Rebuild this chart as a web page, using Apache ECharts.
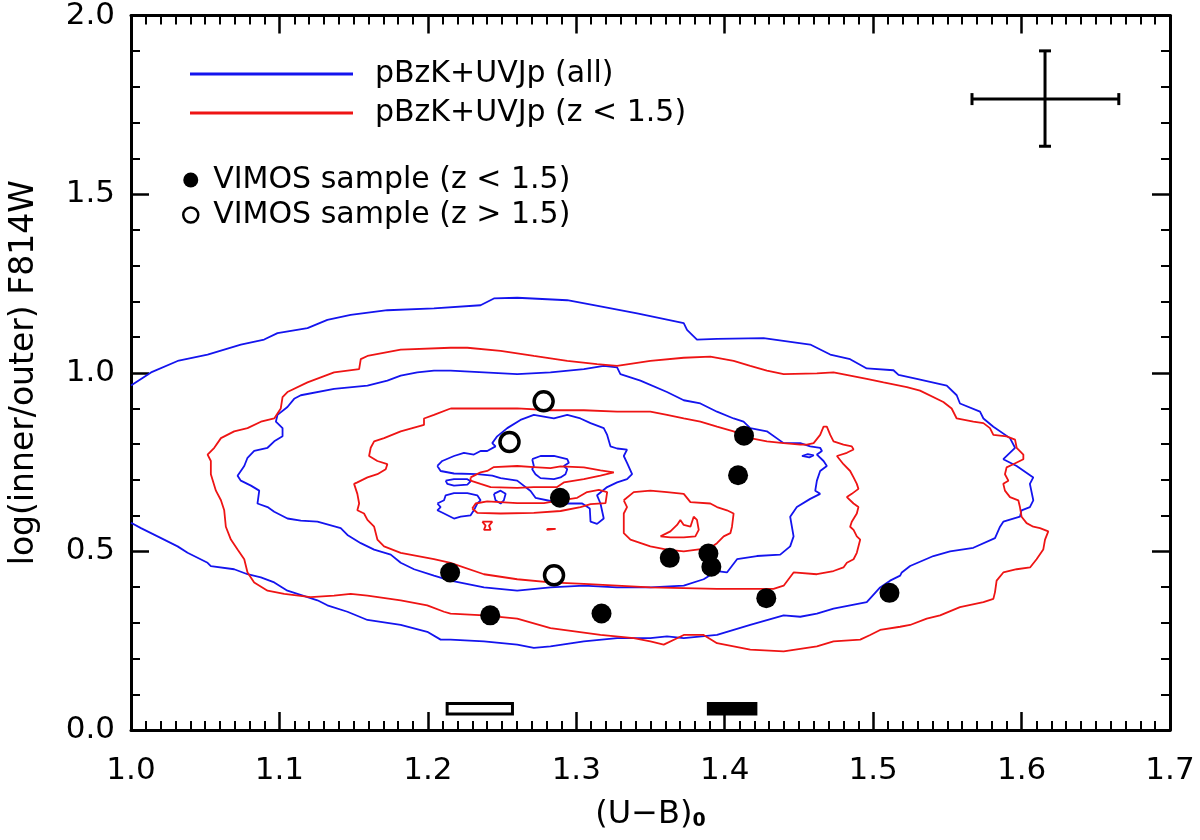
<!DOCTYPE html>
<html><head><meta charset="utf-8">
<script src="https://cdn.jsdelivr.net/npm/echarts@6.0.0/dist/echarts.min.js"></script>
<style>html,body{margin:0;background:#fff}#c{width:1200px;height:840px}</style>
</head><body><div id="c"></div>
<script>
const FONT = 'DejaVu Sans';
const NAME_ALL = 'pBzK+UVJp (all)';
const NAME_LOW = 'pBzK+UVJp (z < 1.5)';
const NAME_VLOW = 'VIMOS sample (z < 1.5)';
const NAME_VHIGH = 'VIMOS sample (z > 1.5)';

const xTicks = [1.0, 1.7, 0.1];
const yTicks = [0.0, 2.0, 0.5];

// blue contours (all)
const blueLevel1 = [[1.0,0.580],[1.0067,0.565],[1.0179,0.542],[1.0314,0.514],[1.0381,0.496],[1.0516,0.468],[1.0538,0.459],[1.0695,0.450],[1.0785,0.436],[1.0875,0.427],[1.0965,0.413],[1.1054,0.390],[1.1189,0.372],[1.1256,0.363],[1.1323,0.349],[1.1458,0.331],[1.1593,0.308],[1.1817,0.294],[1.1996,0.275],[1.2086,0.253],[1.2153,0.253],[1.2378,0.248],[1.2602,0.239],[1.2714,0.230],[1.2826,0.234],[1.3051,0.248],[1.3275,0.257],[1.3499,0.257],[1.3611,0.262],[1.3724,0.257],[1.3948,0.266],[1.4172,0.294],[1.4397,0.321],[1.4509,0.317],[1.4621,0.326],[1.4733,0.340],[1.4845,0.349],[1.4957,0.358],[1.5047,0.399],[1.5114,0.418],[1.5182,0.432],[1.5193,0.441],[1.5249,0.459],[1.5406,0.487],[1.5518,0.500],[1.5675,0.510],[1.5821,0.537],[1.5855,0.569],[1.5877,0.583],[1.5989,0.597],[1.6000,0.615],[1.6056,0.624],[1.6079,0.643],[1.6056,0.689],[1.6079,0.707],[1.5967,0.739],[1.5877,0.758],[1.5956,0.790],[1.5922,0.817],[1.5810,0.849],[1.5743,0.872],[1.5720,0.891],[1.5585,0.914],[1.5563,0.937],[1.5496,0.964],[1.5294,0.983],[1.5171,0.994],[1.5137,1.007],[1.4957,1.012],[1.4845,1.038],[1.4711,1.051],[1.4576,1.079],[1.4262,1.097],[1.3948,1.095],[1.3813,1.093],[1.3746,1.120],[1.3724,1.139],[1.3410,1.166],[1.3118,1.189],[1.2939,1.203],[1.2602,1.210],[1.2445,1.208],[1.2355,1.189],[1.2041,1.180],[1.1727,1.175],[1.1480,1.162],[1.1323,1.148],[1.1189,1.125],[1.0987,1.111],[1.0897,1.093],[1.0740,1.079],[1.0516,1.051],[1.0314,1.033],[1.0135,1.001],[1.0,0.964]];
const blueLevel2 = [[1.2153,1.006],[1.2041,1.006],[1.1929,1.001],[1.1817,0.992],[1.1727,0.978],[1.1593,0.964],[1.1368,0.955],[1.1144,0.937],[1.1099,0.927],[1.1054,0.904],[1.0987,0.882],[1.0976,0.863],[1.1021,0.845],[1.1021,0.822],[1.0965,0.808],[1.0920,0.790],[1.0830,0.781],[1.0785,0.762],[1.0763,0.739],[1.0718,0.712],[1.0740,0.698],[1.0808,0.684],[1.0864,0.670],[1.0852,0.634],[1.0920,0.624],[1.0965,0.611],[1.1054,0.592],[1.1144,0.586],[1.1256,0.583],[1.1413,0.565],[1.1458,0.546],[1.1548,0.523],[1.1638,0.505],[1.1750,0.491],[1.1817,0.468],[1.1907,0.450],[1.2041,0.432],[1.2153,0.418],[1.2378,0.399],[1.2602,0.390],[1.2826,0.399],[1.3051,0.404],[1.3275,0.399],[1.3499,0.399],[1.3724,0.404],[1.3858,0.422],[1.3948,0.445],[1.4015,0.441],[1.4083,0.478],[1.4217,0.487],[1.4374,0.491],[1.4441,0.514],[1.4464,0.542],[1.4441,0.597],[1.4486,0.624],[1.4576,0.647],[1.4643,0.661],[1.4610,0.670],[1.4621,0.698],[1.4643,0.725],[1.4688,0.739],[1.4666,0.753],[1.4621,0.771],[1.4655,0.781],[1.4643,0.790],[1.4576,0.794],[1.4509,0.803],[1.4397,0.803],[1.4284,0.836],[1.4172,0.845],[1.4127,0.863],[1.4060,0.872],[1.3948,0.891],[1.3836,0.914],[1.3724,0.923],[1.3611,0.946],[1.3432,0.978],[1.3297,0.996],[1.3275,1.015],[1.3185,1.019],[1.3051,1.010],[1.2826,1.001],[1.2602,0.996],[1.2378,1.001],[1.2153,1.006]];
const blueLevel3 = [[1.2064,0.739],[1.2097,0.753],[1.2176,0.767],[1.2243,0.776],[1.2310,0.771],[1.2355,0.781],[1.2400,0.781],[1.2456,0.794],[1.2434,0.803],[1.2467,0.822],[1.2535,0.845],[1.2624,0.868],[1.2714,0.882],[1.2849,0.872],[1.2939,0.882],[1.3028,0.872],[1.3096,0.859],[1.3185,0.845],[1.3208,0.826],[1.3230,0.794],[1.3275,0.788],[1.3342,0.785],[1.3320,0.767],[1.3342,0.748],[1.3376,0.716],[1.3342,0.702],[1.3275,0.693],[1.3208,0.680],[1.3140,0.657],[1.3163,0.634],[1.3185,0.592],[1.3140,0.577],[1.3096,0.583],[1.3091,0.620],[1.3040,0.634],[1.2939,0.634],[1.2826,0.641],[1.2725,0.650],[1.2692,0.669],[1.2602,0.698],[1.2490,0.705],[1.2434,0.712],[1.2333,0.716],[1.2176,0.718],[1.2086,0.725],[1.2064,0.739]];
const blueIslandA = [[1.2703,0.758],[1.2759,0.767],[1.2849,0.767],[1.2939,0.758],[1.2950,0.748],[1.2916,0.739],[1.2939,0.730],[1.2927,0.716],[1.2894,0.707],[1.2849,0.702],[1.2759,0.705],[1.2725,0.716],[1.2703,0.730],[1.2714,0.739],[1.2703,0.758]];
const blueIslandB = [[1.2120,0.698],[1.2176,0.702],[1.2266,0.702],[1.2288,0.696],[1.2266,0.687],[1.2176,0.684],[1.2131,0.689],[1.2120,0.698]];
const blueIslandC = [[1.2064,0.634],[1.2109,0.643],[1.2120,0.657],[1.2176,0.663],[1.2266,0.663],[1.2333,0.657],[1.2355,0.643],[1.2333,0.634],[1.2310,0.615],[1.2288,0.601],[1.2221,0.597],[1.2176,0.592],[1.2109,0.606],[1.2064,0.615],[1.2086,0.624],[1.2064,0.634]];
const blueIslandD = [[1.2445,0.661],[1.2490,0.670],[1.2524,0.661],[1.2512,0.643],[1.2490,0.634],[1.2456,0.643],[1.2445,0.661]];
const blueIslandE = [[1.4520,0.767],[1.4560,0.772],[1.4600,0.769],[1.4570,0.763],[1.4520,0.767]];

// red contours (z < 1.5)
const redLevel1 = [[1.2153,1.070],[1.1817,1.065],[1.1593,1.047],[1.1548,1.038],[1.1537,1.010],[1.1368,1.001],[1.1189,0.973],[1.1054,0.946],[1.1021,0.932],[1.1009,0.900],[1.0965,0.872],[1.0875,0.863],[1.0785,0.845],[1.0695,0.836],[1.0606,0.817],[1.0561,0.790],[1.0516,0.771],[1.0538,0.753],[1.0538,0.716],[1.0572,0.670],[1.0606,0.643],[1.0628,0.615],[1.0639,0.569],[1.0673,0.533],[1.0718,0.505],[1.0763,0.478],[1.0785,0.441],[1.0830,0.413],[1.0920,0.390],[1.1032,0.381],[1.1211,0.372],[1.1368,0.376],[1.1480,0.381],[1.1593,0.376],[1.1817,0.363],[1.1996,0.349],[1.2109,0.331],[1.2153,0.326],[1.2378,0.321],[1.2602,0.312],[1.2826,0.285],[1.3163,0.266],[1.3387,0.257],[1.3499,0.248],[1.3589,0.239],[1.3679,0.257],[1.3724,0.266],[1.3858,0.266],[1.3948,0.243],[1.4172,0.225],[1.4397,0.220],[1.4621,0.234],[1.4733,0.248],[1.4913,0.253],[1.4980,0.266],[1.5047,0.280],[1.5182,0.289],[1.5249,0.294],[1.5361,0.312],[1.5451,0.321],[1.5585,0.344],[1.5743,0.358],[1.5810,0.367],[1.5821,0.386],[1.5832,0.418],[1.5877,0.441],[1.5967,0.450],[1.6057,0.455],[1.6101,0.478],[1.6146,0.505],[1.6158,0.533],[1.6180,0.556],[1.6124,0.565],[1.6079,0.569],[1.6034,0.579],[1.6000,0.597],[1.5989,0.624],[1.5978,0.643],[1.5922,0.652],[1.5888,0.670],[1.5877,0.689],[1.5911,0.698],[1.5888,0.716],[1.5899,0.735],[1.5944,0.744],[1.6012,0.758],[1.6012,0.771],[1.5967,0.790],[1.5956,0.813],[1.5899,0.822],[1.5810,0.826],[1.5787,0.845],[1.5743,0.859],[1.5675,0.863],[1.5563,0.872],[1.5529,0.900],[1.5473,0.918],[1.5316,0.950],[1.5227,0.960],[1.5070,0.973],[1.4957,0.983],[1.4845,0.992],[1.4733,1.001],[1.4621,0.998],[1.4397,0.996],[1.4284,1.006],[1.4172,1.019],[1.4060,1.033],[1.3903,1.045],[1.3724,1.042],[1.3499,1.033],[1.3275,1.019],[1.3140,1.024],[1.2939,1.033],[1.2714,1.047],[1.2490,1.061],[1.2266,1.070],[1.2153,1.070]];
const redLevel2 = [[1.2153,0.900],[1.2041,0.882],[1.1974,0.872],[1.1974,0.854],[1.1817,0.836],[1.1705,0.817],[1.1638,0.808],[1.1615,0.790],[1.1604,0.767],[1.1660,0.753],[1.1727,0.744],[1.1716,0.730],[1.1660,0.716],[1.1593,0.707],[1.1525,0.693],[1.1503,0.689],[1.1525,0.661],[1.1537,0.634],[1.1525,0.615],[1.1570,0.606],[1.1593,0.588],[1.1638,0.569],[1.1660,0.533],[1.1705,0.514],[1.1817,0.496],[1.2041,0.478],[1.2153,0.468],[1.2378,0.436],[1.2602,0.422],[1.2826,0.413],[1.3051,0.409],[1.3275,0.404],[1.3499,0.399],[1.3724,0.397],[1.3948,0.395],[1.4172,0.395],[1.4329,0.395],[1.4397,0.404],[1.4464,0.441],[1.4621,0.436],[1.4733,0.445],[1.4800,0.455],[1.4823,0.468],[1.4868,0.478],[1.4890,0.496],[1.4913,0.533],[1.4890,0.542],[1.4868,0.560],[1.4845,0.569],[1.4856,0.583],[1.4890,0.606],[1.4901,0.624],[1.4868,0.634],[1.4823,0.652],[1.4856,0.661],[1.4901,0.675],[1.4890,0.689],[1.4868,0.707],[1.4845,0.725],[1.4800,0.744],[1.4756,0.767],[1.4823,0.776],[1.4868,0.785],[1.4856,0.794],[1.4800,0.799],[1.4733,0.808],[1.4711,0.826],[1.4688,0.849],[1.4666,0.849],[1.4643,0.826],[1.4599,0.803],[1.4554,0.799],[1.4509,0.799],[1.4397,0.803],[1.4284,0.808],[1.4172,0.817],[1.4060,0.836],[1.3948,0.849],[1.3836,0.863],[1.3724,0.872],[1.3611,0.882],[1.3499,0.891],[1.3275,0.891],[1.3051,0.895],[1.2826,0.895],[1.2602,0.900],[1.2378,0.900],[1.2153,0.900]];
const redLevel3a = [[1.2288,0.707],[1.2355,0.721],[1.2400,0.725],[1.2445,0.736],[1.2602,0.739],[1.2714,0.736],[1.2826,0.733],[1.2894,0.738],[1.3051,0.735],[1.3163,0.727],[1.3253,0.721],[1.3163,0.712],[1.3051,0.702],[1.2916,0.693],[1.2871,0.680],[1.2714,0.680],[1.2602,0.678],[1.2423,0.680],[1.2355,0.689],[1.2288,0.698],[1.2288,0.707]];
const redLevel3b = [[1.2299,0.620],[1.2322,0.634],[1.2400,0.640],[1.2602,0.635],[1.2782,0.635],[1.2894,0.643],[1.3006,0.650],[1.3073,0.666],[1.3152,0.672],[1.3208,0.666],[1.3197,0.635],[1.3096,0.632],[1.3028,0.624],[1.2894,0.613],[1.2714,0.608],[1.2490,0.606],[1.2333,0.608],[1.2299,0.620]];
const redLevel3c = [[1.3320,0.643],[1.3387,0.666],[1.3499,0.670],[1.3611,0.666],[1.3724,0.661],[1.3769,0.638],[1.3903,0.634],[1.3948,0.624],[1.4015,0.615],[1.4060,0.606],[1.4049,0.569],[1.4038,0.551],[1.3993,0.542],[1.3948,0.523],[1.3903,0.510],[1.3813,0.505],[1.3724,0.500],[1.3611,0.505],[1.3499,0.514],[1.3365,0.533],[1.3320,0.551],[1.3320,0.606],[1.3342,0.624],[1.3320,0.643]];
const redLevel4 = [[1.3567,0.542],[1.3634,0.556],[1.3679,0.574],[1.3701,0.588],[1.3724,0.574],[1.3769,0.569],[1.3791,0.597],[1.3813,0.588],[1.3825,0.560],[1.3802,0.542],[1.3724,0.539],[1.3634,0.539],[1.3567,0.542]];
const redBitA = [[1.2367,0.583],[1.2434,0.583],[1.2412,0.572],[1.2423,0.560],[1.2378,0.560],[1.2389,0.572],[1.2367,0.583]];
const redBitB = [[1.2804,0.563],[1.2861,0.563],[1.2861,0.560],[1.2804,0.560],[1.2804,0.563]];

// VIMOS sample
const vimosLow = [[1.215,0.441],[1.242,0.321],[1.289,0.650],[1.317,0.326],[1.363,0.482],[1.389,0.494],[1.391,0.457],[1.409,0.713],[1.413,0.824],[1.428,0.369],[1.511,0.384]];
const vimosHigh = [[1.278,0.920],[1.255,0.806],[1.285,0.433]];

// median colour bars: [x0, x1, y0, y1, filled]
const medianBars = [[1.213,1.257,0.045,0.074,0],[1.389,1.421,0.045,0.074,1]];
// typical error: [x, y, xlow, xhigh, ylow, yhigh]
const typicalError = [[1.6158,1.766,1.5666,1.6655,1.634,1.901]];

const chart = echarts.init(document.getElementById('c'));

function contour(name, color, data) {
  return {type:'line', name, data, color, showSymbol:false, symbol:'none', silent:true,
    lineStyle:{color, width:1.8}, z:2, animation:false};
}
const blueSeries = [blueLevel1, blueLevel2, blueLevel3, blueIslandA, blueIslandB, blueIslandC, blueIslandD, blueIslandE]
  .map(d => contour(NAME_ALL, '#1414ee', d));
const redSeries = [redLevel1, redLevel2, redLevel3a, redLevel3b, redLevel3c, redLevel4, redBitA, redBitB]
  .map(d => contour(NAME_LOW, '#ee1414', d));

const axisCommon = {
  axisLine:{onZero:false, lineStyle:{color:'#000', width:3}},
  axisTick:{inside:true, length:18, lineStyle:{color:'#000', width:2.5}},
  splitLine:{show:false}
};

chart.setOption({
  animation:false,
  backgroundColor:'#fff',
  grid:{left:130, right:30, top:4, bottom:110, containLabel:false},
  xAxis:[
    Object.assign({type:'value', min:xTicks[0], max:xTicks[1], interval:xTicks[2], position:'bottom',
      minorTick:{show:true, splitNumber:10, length:9, lineStyle:{color:'#000', width:2}},
      axisLabel:{fontSize:31, fontFamily:FONT, color:'#000', margin:25, formatter:v=>v.toFixed(1)},
      name:'{a|(U−B)}{b|0}', nameLocation:'middle', nameGap:63,
      nameTextStyle:{rich:{a:{fontSize:32, fontFamily:FONT, color:'#000', lineHeight:38, verticalAlign:'bottom'},
                           b:{fontSize:19, fontFamily:FONT, fontWeight:'bold', color:'#000', lineHeight:19, verticalAlign:'bottom'}}}
    }, axisCommon),
    Object.assign({type:'value', min:xTicks[0], max:xTicks[1], interval:xTicks[2], position:'top',
      minorTick:{show:true, splitNumber:10, length:9, lineStyle:{color:'#000', width:2}},
      axisLabel:{show:false}}, axisCommon)
  ],
  yAxis:[
    Object.assign({type:'value', min:yTicks[0], max:yTicks[1], interval:yTicks[2], position:'left',
      minorTick:{show:true, splitNumber:5, length:9, lineStyle:{color:'#000', width:2}},
      axisLabel:{fontSize:31, fontFamily:FONT, color:'#000', margin:16, formatter:v=>v.toFixed(1)},
      name:'log(inner/outer) F814W', nameLocation:'middle', nameGap:90, nameRotate:90,
      nameTextStyle:{fontSize:33, fontFamily:FONT, color:'#000'}
    }, axisCommon),
    Object.assign({type:'value', min:yTicks[0], max:yTicks[1], interval:yTicks[2], position:'right',
      minorTick:{show:true, splitNumber:5, length:9, lineStyle:{color:'#000', width:2}},
      axisLabel:{show:false}}, axisCommon)
  ],
  legend:[
    {data:[{name:NAME_ALL, icon:'rect'},{name:NAME_LOW, icon:'rect'}],
     orient:'vertical', left:185, top:50, itemWidth:163, itemHeight:3, itemGap:1, selectedMode:false,
     textStyle:{fontSize:30, fontFamily:FONT, color:'#000', lineHeight:30, padding:[8,0,0,17]}},
    {data:[{name:NAME_VLOW, icon:'circle'},{name:NAME_VHIGH, icon:'circle', itemStyle:{borderWidth:2.5}}],
     orient:'vertical', left:177, top:160, itemWidth:15, itemHeight:15, itemGap:5, selectedMode:false,
     textStyle:{fontSize:30, fontFamily:FONT, color:'#000', lineHeight:30, padding:[0,0,0,10]}}
  ],
  series:[
    ...blueSeries,
    ...redSeries,
    {type:'custom', name:'median', silent:true, z:4, data:medianBars, encode:{x:[0,1], y:[2,3]},
     renderItem:(params, api) => {
       const p0 = api.coord([api.value(0), api.value(2)]);
       const p1 = api.coord([api.value(1), api.value(3)]);
       return {type:'rect', shape:{x:p0[0], y:p1[1], width:p1[0]-p0[0], height:p0[1]-p1[1]},
               style:{fill: api.value(4) ? '#000' : '#fff', stroke:'#000', lineWidth:3}};
     }},
    {type:'custom', name:'error', silent:true, z:4, data:typicalError, encode:{x:[0,2,3], y:[1,4,5]},
     renderItem:(params, api) => {
       const l = api.coord([api.value(2), api.value(1)]);
       const r = api.coord([api.value(3), api.value(1)]);
       const b = api.coord([api.value(0), api.value(4)]);
       const t = api.coord([api.value(0), api.value(5)]);
       const cap = 6, st = {stroke:'#000', lineWidth:3};
       return {type:'group', children:[
         {type:'line', shape:{x1:l[0], y1:l[1], x2:r[0], y2:r[1]}, style:st},
         {type:'line', shape:{x1:b[0], y1:b[1], x2:t[0], y2:t[1]}, style:st},
         {type:'line', shape:{x1:l[0], y1:l[1]-cap, x2:l[0], y2:l[1]+cap}, style:st},
         {type:'line', shape:{x1:r[0], y1:r[1]-cap, x2:r[0], y2:r[1]+cap}, style:st},
         {type:'line', shape:{x1:b[0]-cap, y1:b[1], x2:b[0]+cap, y2:b[1]}, style:st},
         {type:'line', shape:{x1:t[0]-cap, y1:t[1], x2:t[0]+cap, y2:t[1]}, style:st}
       ]};
     }},
    {type:'scatter', name:NAME_VLOW, data:vimosLow, symbol:'circle', symbolSize:20, z:6,
     itemStyle:{color:'#000', opacity:1}},
    {type:'scatter', name:NAME_VHIGH, data:vimosHigh, symbol:'circle', symbolSize:19, z:6,
     itemStyle:{color:'#fff', borderColor:'#000', borderWidth:3.5, opacity:1}}
  ]
});
</script>
</body></html>
